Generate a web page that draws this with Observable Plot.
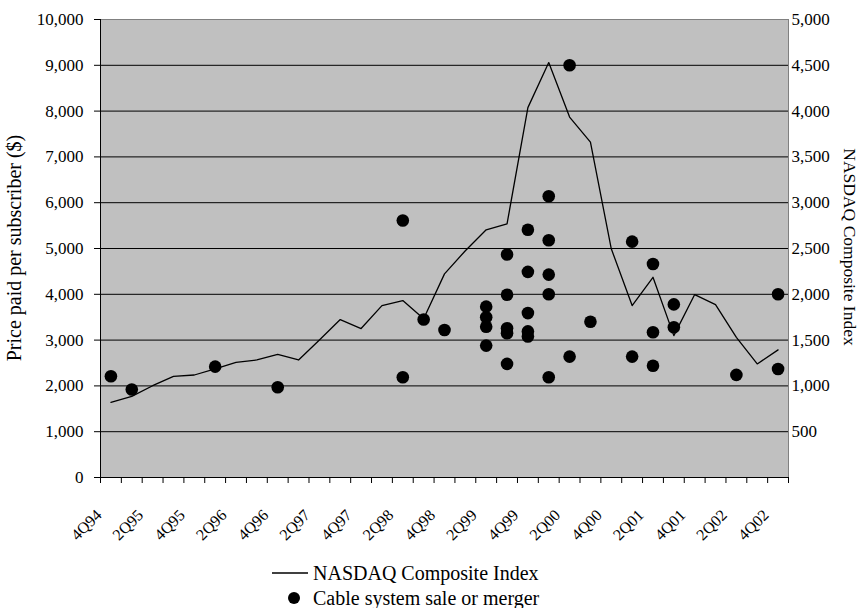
<!DOCTYPE html>
<html><head><meta charset="utf-8">
<script src="https://cdn.jsdelivr.net/npm/d3@7"></script>
<script src="https://cdn.jsdelivr.net/npm/@observablehq/plot@0.6"></script>
<style>
body{margin:0;background:#fff;}
#wrap{position:relative;width:863px;height:608px;font-family:"Liberation Serif","Times New Roman",serif;color:#000;}
#wrap svg{display:block;}
.leg{position:absolute;left:272px;font-size:20px;display:flex;align-items:center;height:24px;white-space:nowrap;}
.leg svg{margin-right:4px;}
</style></head><body><div id="wrap"></div>
<script>
const quarters = ["4Q94","1Q95","2Q95","3Q95","4Q95","1Q96","2Q96","3Q96","4Q96","1Q97","2Q97","3Q97","4Q97",
  "1Q98","2Q98","3Q98","4Q98","1Q99","2Q99","3Q99","4Q99","1Q00","2Q00","3Q00","4Q00",
  "1Q01","2Q01","3Q01","4Q01","1Q02","2Q02","3Q02","4Q02"];
const nasdaq = [820, 885, 1002, 1104, 1119, 1185, 1257, 1283, 1345, 1283, 1502, 1724, 1626,
  1877, 1932, 1732, 2223, 2476, 2704, 2770, 4038, 4530, 3935, 3662, 2497,
  1877, 2186, 1549, 1997, 1888, 1530, 1240, 1393];
const dealQuarter = ["4Q94","1Q95","1Q96","4Q96","2Q98","2Q98","3Q98","4Q98",
  "2Q99","2Q99","2Q99","2Q99",
  "3Q99","3Q99","3Q99","3Q99","3Q99",
  "4Q99","4Q99","4Q99","4Q99","4Q99",
  "1Q00","1Q00","1Q00","1Q00","1Q00",
  "2Q00","2Q00","3Q00","1Q01","1Q01","2Q01","2Q01","2Q01","3Q01","3Q01","2Q02","4Q02","4Q02"];
const dealPrice = [2210, 1920, 2420, 1970, 5610, 2190, 3450, 3220,
  3730, 3500, 3290, 2880,
  4870, 3990, 3260, 3150, 2480,
  5410, 4490, 3590, 3190, 3080,
  6140, 5180, 4430, 4000, 2190,
  9000, 2640, 3400, 5150, 2640, 4660, 3170, 2440, 3780, 3280, 2240, 4000, 2370];
const axisLabels = quarters.filter((q, i) => i % 2 === 0);
const leftTicks = d3.range(0, 10001, 1000);
const rightTicks = d3.range(1000, 10001, 1000);

const lineData = quarters.map((q, i) => ({q, i, v: nasdaq[i]}));
const deals = dealQuarter.map((q, k) => ({q, i: quarters.indexOf(q), p: dealPrice[k]}));
const labelData = axisLabels.map(q => ({q, i: quarters.indexOf(q)}));
const font = '"Liberation Serif","Times New Roman",serif';

const plot = Plot.plot({
  width: 863, height: 560,
  marginLeft: 100, marginRight: 75, marginTop: 19, marginBottom: 83,
  style: {fontFamily: font, fontSize: "17px", color: "#000", background: "white", overflow: "visible"},
  x: {domain: [0, quarters.length], axis: null},
  y: {domain: [0, 10000], axis: null},
  marks: [
    Plot.frame({fill: "#c0c0c0", stroke: "#808080"}),
    Plot.gridY({ticks: leftTicks.slice(1, -1), stroke: "#000", strokeOpacity: 1}),
    Plot.axisY({ticks: leftTicks, tickFormat: d3.format(","), tickSize: 6, tickPadding: 11, anchor: "left", label: null, fontSize: 17}),
    Plot.axisY({anchor: "right", ticks: rightTicks, tickFormat: d => d3.format(",")(d / 2), tickSize: 0, tickPadding: 3, label: null, fontSize: 17}),
    Plot.ruleX([0], {stroke: "#000"}),
    Plot.ruleY([0], {stroke: "#000"}),
    Plot.axisX({ticks: d3.range(0, quarters.length + 1), tickSize: 6, tickFormat: () => "", label: null}),
    Plot.text(labelData, {x: d => d.i + 0.5, text: "q", frameAnchor: "bottom", dx: -12, dy: 35,
      rotate: -45, textAnchor: "end", lineAnchor: "middle", fontSize: 16, fill: "#000"}),
    Plot.line(lineData, {x: d => d.i + 0.5, y: d => d.v * 2, stroke: "#000", strokeWidth: 1.3}),
    Plot.dot(deals, {x: d => d.i + 0.5, y: "p", r: 6.3, fill: "#000", stroke: null})
  ]
});

const wrap = document.getElementById("wrap");
wrap.appendChild(plot);
const svg = d3.select(plot);
svg.append("text").attr("transform", "translate(21,248) rotate(-90)").attr("text-anchor", "middle")
  .style("font-size", "20px").style("font-family", font).attr("fill", "#000").text("Price paid per subscriber ($)");
svg.append("text").attr("transform", "translate(844,247) rotate(90)").attr("text-anchor", "middle")
  .style("font-size", "17.5px").style("font-family", font).attr("fill", "#000").text("NASDAQ Composite Index");

const leg1 = document.createElement("div");
leg1.className = "leg"; leg1.style.top = "561px";
leg1.innerHTML = '<svg width="37" height="24"><line x1="0" x2="36" y1="12" y2="12" stroke="#000" stroke-width="1.3"/></svg><span>NASDAQ Composite Index</span>';
const leg2 = document.createElement("div");
leg2.className = "leg"; leg2.style.top = "586px";
leg2.innerHTML = '<svg width="37" height="24"><circle cx="22" cy="12" r="6" fill="#000"/></svg><span>Cable system sale or merger</span>';
wrap.appendChild(leg1); wrap.appendChild(leg2);
</script></body></html>
